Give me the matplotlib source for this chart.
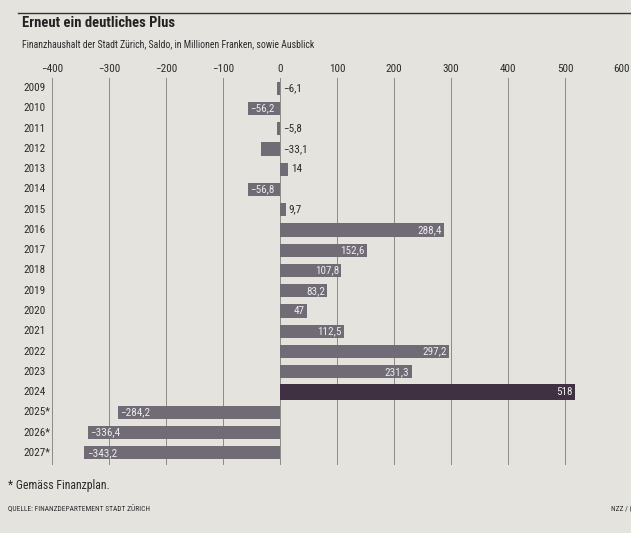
import matplotlib
matplotlib.use("Agg")
import matplotlib.pyplot as plt
from matplotlib import transforms
from matplotlib import font_manager as fm

years = ["2009", "2010", "2011", "2012", "2013", "2014", "2015", "2016", "2017",
         "2018", "2019", "2020", "2021", "2022", "2023", "2024", "2025*", "2026*", "2027*"]
saldo = [-6.1, -56.2, -5.8, -33.1, 14, -56.8, 9.7, 288.4, 152.6, 107.8, 83.2, 47,
         112.5, 297.2, 231.3, 518, -284.2, -336.4, -343.2]
xticks = [-400, -300, -200, -100, 0, 100, 200, 300, 400, 500, 600]
highlight = "2024"

PAPER = "#e4e3de"
BAR = "#716b75"
BAR_HI = "#3f3142"
INK = "#2b2b2b"

# narrow face like the newspaper's, whichever is installed
installed = {f.name for f in fm.fontManager.ttflist}
wanted = ["Roboto Condensed", "Archivo Narrow", "PT Sans Narrow", "Fira Sans Condensed",
          "IBM Plex Sans Condensed", "Liberation Sans Narrow", "Liberation Sans"]
fams = [f for f in wanted if f in installed] + ["DejaVu Sans"]
plt.rcParams["font.family"] = fams

fig = plt.figure(figsize=(6.31, 5.33), dpi=100, facecolor=PAPER)
ax = fig.add_axes([52 / 631, 1 - 465 / 533, 570 / 631, 387 / 533])
ax.set_facecolor(PAPER)

ypos = list(range(len(years)))
colors = [BAR_HI if y == highlight else BAR for y in years]
heights = [0.78 if y == highlight else 0.65 for y in years]
ax.barh(ypos, saldo, height=heights, color=colors, zorder=3)

ax.set_xlim(-400, 600)
ax.set_ylim(len(years) - 0.4, -0.5)
ax.set_xticks(xticks)
ax.set_xticklabels([str(t).replace("-", "\u2212") for t in xticks])
ax.xaxis.tick_top()
ax.tick_params(axis="x", length=0, pad=3, labelsize=8, colors=INK)
ax.set_yticks([])
ax.grid(axis="x", color="#8c8b87", linewidth=0.7, zorder=1)
for s in ax.spines.values():
    s.set_visible(False)


def fmt(v):
    s = str(int(v)) if v == int(v) else "%.1f" % v
    return s.replace(".", ",").replace("-", "\u2212")


for y, v in zip(ypos, saldo):
    lab = fmt(v)
    if abs(v) > 40:
        if v > 0:
            ax.text(v - 4, y, lab, ha="right", va="center", color="#ececec",
                    fontsize=8, zorder=4)
        else:
            ax.text(v + 4, y, lab, ha="left", va="center", color="#ececec",
                    fontsize=8, zorder=4)
    else:
        xo = max(v, 0) + 5
        ax.text(xo, y, lab, ha="left", va="center", color=INK, fontsize=8, zorder=4)

# year labels on the left
trans = transforms.blended_transform_factory(fig.transFigure, ax.transData)
for y, lab in zip(ypos, years):
    ax.text(23 / 631, y, lab, ha="left", va="center", fontsize=8, color=INK,
            transform=trans)

# header
fig.add_artist(plt.Line2D([18 / 631, 1], [1 - 13 / 533, 1 - 13 / 533],
                          color="#333333", linewidth=1.0))
fig.text(22 / 631, 1 - 23 / 533, "Erneut ein deutliches Plus", ha="left", va="center",
         fontsize=10.5, fontweight="bold", color="#222222")
fig.text(22 / 631, 1 - 44 / 533,
         "Finanzhaushalt der Stadt Zürich, Saldo, in Millionen Franken, sowie Ausblick",
         ha="left", va="center", fontsize=7, color=INK)

# footer
fig.text(8 / 631, 1 - 486 / 533, "* Gemäss Finanzplan.", ha="left", va="center",
         fontsize=8.5, color=INK)
fig.text(8 / 631, 1 - 509 / 533, "QUELLE: FINANZDEPARTEMENT STADT ZÜRICH", ha="left",
         va="center", fontsize=5.3, color=INK)
fig.text(611 / 631, 1 - 509 / 533, "NZZ / (", ha="left", va="center",
         fontsize=5.3, color=INK)

fig.savefig("out.png", dpi=100, facecolor=PAPER)
